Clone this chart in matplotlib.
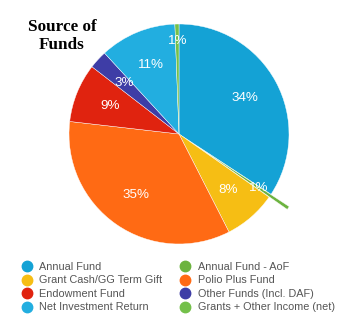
import matplotlib.pyplot as plt
from matplotlib.lines import Line2D
import numpy as np

# Dados, em ordem horaria a partir do topo
categorias = ['Annual Fund', 'Annual Fund - AoF', 'Grant Cash/GG Term Gift', 'Polio Plus Fund',
              'Endowment Fund', 'Other Funds (Incl. DAF)', 'Net Investment Return',
              'Grants + Other Income (net)']
valores = [34.4, 0.5, 7.8, 34.5, 8.7, 2.7, 11.3, 0.6]
rotulos = ['34%', '1%', '8%', '35%', '9%', '3%', '11%', '1%']
cores = ['#14A2D5', '#6CB33F', '#F6BE14', '#FF6A14', '#E0230F', '#3E3DA6', '#22AEE0', '#74C04A']
destaque = [0, 0.2, 0, 0, 0, 0, 0, 0]

W, H = 352, 326
fig = plt.figure(figsize=(W / 100, H / 100), dpi=100)
fig.patch.set_facecolor('white')

cx, cy, r = 179, 134, 110
ax = fig.add_axes([(cx - r) / W, 1 - (cy + r) / H, 2 * r / W, 2 * r / H])
wedges, textos = ax.pie(valores, colors=cores, startangle=90, counterclock=False,
                        explode=destaque, wedgeprops=dict(edgecolor='white', linewidth=0.3))
ax.set_xlim(-1, 1)
ax.set_ylim(-1, 1)
ax.set_aspect('equal')
ax.axis('off')
for w in wedges:
    w.set_clip_on(False)

# rotulos de porcentagem
total = sum(valores)
ang = 90.0
for i, (v, lab) in enumerate(zip(valores, rotulos)):
    meio = ang - v / total * 360 / 2
    ang -= v / total * 360
    dist = 0.68 + destaque[i]
    if v < 1 and destaque[i] == 0:
        dist = 0.85
    x = dist * np.cos(np.radians(meio))
    y = dist * np.sin(np.radians(meio))
    ax.text(x, y, lab, ha='center', va='center', color='white', fontsize=9.6,
            family='Liberation Sans')

fig.text(62 / W, 1 - 36 / H, 'Source of\nFunds', ha='center', va='center', fontsize=12.3,
         fontweight='bold', family='Liberation Serif', linespacing=1.2)

# legenda (ordem por coluna)
ordem = [0, 2, 4, 6, 1, 3, 5, 7]
handles = [Line2D([], [], marker='o', linestyle='none', markersize=7.5,
                  markerfacecolor=cores[i], markeredgecolor=cores[i]) for i in ordem]
labels = [categorias[i] for i in ordem]
leg = fig.legend(handles, labels, ncol=2, loc='upper left',
                 bbox_to_anchor=(21.3 / W, 1 - 262 / H), frameon=False,
                 prop={'family': 'Liberation Sans', 'size': 7.8},
                 handlelength=1.0, handletextpad=0.65, labelspacing=0.32,
                 columnspacing=1.6, borderaxespad=0, borderpad=0)
for t in leg.get_texts():
    t.set_color('#555555')

fig.savefig('out.png', dpi=100, facecolor='white')
